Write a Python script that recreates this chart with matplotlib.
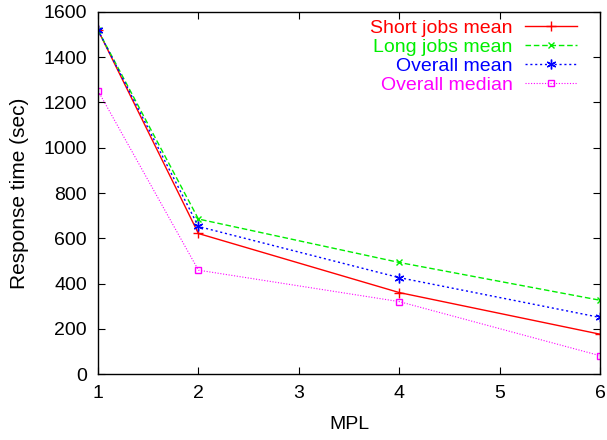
import matplotlib
matplotlib.use("Agg")
import matplotlib.pyplot as plt

plt.rcParams['font.family'] = ['Liberation Sans', 'DejaVu Sans']

mpl = [1, 2, 4, 6]
short_mean = [1520, 621, 360, 176]
long_mean = [1520, 685, 493, 326]
overall_mean = [1520, 652, 426, 250]
overall_median = [1252, 459, 320, 81]

xticks = [1, 2, 3, 4, 5, 6]
yticks = [0, 200, 400, 600, 800, 1000, 1200, 1400, 1600]

W, H = 607, 440
fig = plt.figure(figsize=(W / 100, H / 100), dpi=100)
ax = fig.add_axes([98 / W, (H - 374) / H, (600 - 98) / W, (374 - 12) / H])

ax.plot(mpl, short_mean, color='#ff0000', lw=1, marker='+', ms=7, mew=1, label='Short jobs mean')
ax.plot(mpl, long_mean, color='#00ee00', lw=1, ls=(0, (4, 2)), marker='x', ms=5, mew=1, label='Long jobs mean')
ax.plot(mpl, overall_mean, color='#0000ff', lw=1, ls=(0, (1.5, 2)), marker=(6, 2, 0), ms=7, mew=1, label='Overall mean')
ax.plot(mpl, overall_median, color='#ff00ff', lw=0.8, ls=(0, (1, 1.5)), marker='s', ms=5, mfc='none', mew=1, label='Overall median')

ax.set_xlim(1, 6)
ax.set_ylim(0, 1600)
ax.set_xticks(xticks)
ax.set_yticks(yticks)
ax.tick_params(direction='in', top=True, right=True, length=5, labelsize=14, pad=8)
for s in ax.spines.values():
    s.set_linewidth(1)
ax.set_xlabel('MPL', fontsize=14)
ax.xaxis.set_label_coords(0.5, -(424 - 374) / (374 - 12), transform=ax.transAxes)
ax.xaxis.label.set_va('center')
ax.set_ylabel('Response time (sec)', fontsize=15)
ax.yaxis.set_label_coords(-(98 - 20) / (600 - 98), 0.5, transform=ax.transAxes)
ax.yaxis.label.set_va('center')

leg = ax.legend(loc='upper right', frameon=False, markerfirst=False, labelcolor='linecolor',
                fontsize=14, handlelength=2.7, handletextpad=0.62, labelspacing=0.07,
                borderpad=0, borderaxespad=0,
                bbox_to_anchor=(577 / W, (H - 19) / H), bbox_transform=fig.transFigure)
for t in leg.get_texts():
    t.set_ha('right')
    t.set_position((0, 0))
fig.savefig('out.png', dpi=100)
